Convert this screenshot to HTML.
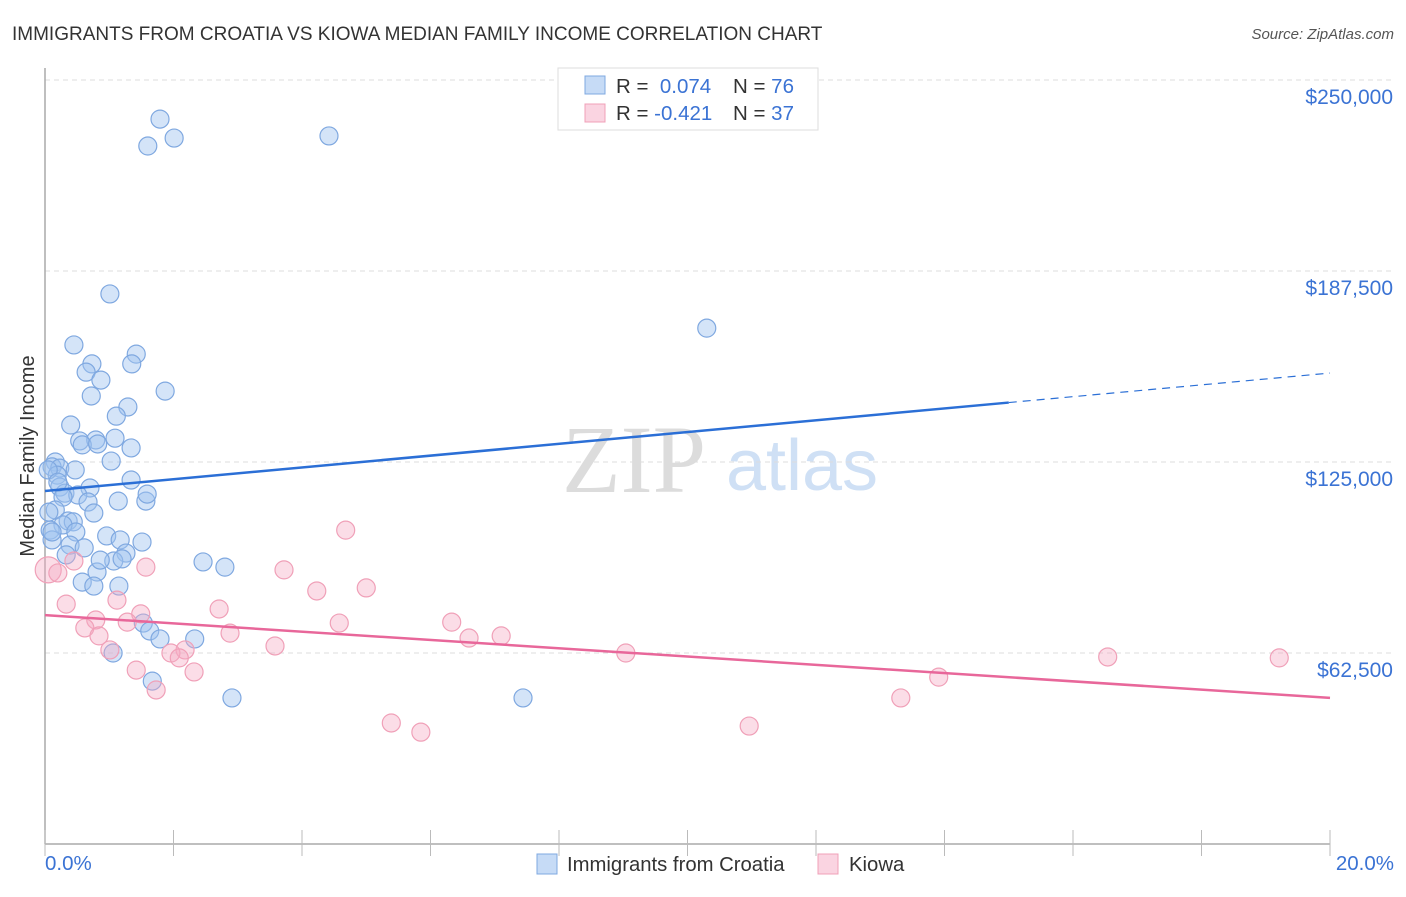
<!DOCTYPE html>
<html><head><meta charset="utf-8"><style>
body{margin:0;background:#fff;font-family:"Liberation Sans",sans-serif}
</style></head><body>
<svg id="c" width="1406" height="892" xmlns="http://www.w3.org/2000/svg" style="font-family:'Liberation Sans',sans-serif">
<text x="12" y="40" font-size="19" fill="#333">IMMIGRANTS FROM CROATIA VS KIOWA MEDIAN FAMILY INCOME CORRELATION CHART</text>
<text x="1394" y="39" font-size="15" fill="#555" font-style="italic" text-anchor="end">Source: ZipAtlas.com</text>
<g>
<text x="634" y="492" font-size="96" fill="#dcdcdc" font-family="Liberation Serif,serif" text-anchor="middle">ZIP</text>
<text x="802" y="490" font-size="72" fill="#cfe0f5" text-anchor="middle">atlas</text>
</g>
<g id="grid"></g>
<g id="axes"></g>
<g id="pts"></g>
<g id="trend"></g>
<text transform="translate(34,456) rotate(-90)" font-size="20" fill="#333" text-anchor="middle">Median Family Income</text>
<text x="45" y="870" font-size="20.5" fill="#3b73d4">0.0%</text>
<text x="1394" y="870" font-size="20.5" fill="#3b73d4" text-anchor="end">20.0%</text>
<g>
<rect x="558" y="68" width="260" height="62" fill="#fff" stroke="#ddd"/>
<rect x="585" y="76" width="20" height="18" fill="rgba(160,195,240,0.6)" stroke="#7fa8e0"/>
<rect x="585" y="104" width="20" height="18" fill="rgba(245,170,195,0.5)" stroke="#f0a0b8"/>
<text x="616" y="93" font-size="20.5" fill="#333">R = <tspan fill="#3b73d4">&#160;0.074</tspan><tspan x="733">N = </tspan><tspan fill="#3b73d4">76</tspan></text>
<text x="616" y="120" font-size="20.5" fill="#333">R = <tspan fill="#3b73d4">-0.421</tspan><tspan x="733">N = </tspan><tspan fill="#3b73d4">37</tspan></text>
</g>
<g>
<rect x="537" y="854" width="20" height="20" fill="rgba(160,195,240,0.6)" stroke="#7fa8e0"/>
<text x="567" y="871" font-size="20.3" fill="#333">Immigrants from Croatia</text>
<rect x="818" y="854" width="20" height="20" fill="rgba(245,170,195,0.5)" stroke="#f0a0b8"/>
<text x="849" y="871" font-size="20.3" fill="#333">Kiowa</text>
</g>
</svg>
<script>
const yTicks=[62500,125000,187500,250000];
const yTickLabels=["$62,500","$125,000","$187,500","$250,000"];
const xTicks=[0,2,4,6,8,10,12,14,16,18,20];
const blueX=[1.79,1.60,2.01,4.42,1.01,10.30,0.45,1.42,0.73,1.35,0.64,0.87,1.87,0.72,1.29,1.11,0.40,0.54,0.79,1.09,0.58,0.82,1.34,1.03,0.16,0.11,0.23,0.19,1.34,0.70,0.23,0.31,0.51,0.28,0.67,1.14,1.57,1.59,0.16,0.76,0.36,0.44,0.28,0.08,0.48,0.11,0.39,0.61,0.96,1.17,1.51,1.26,1.07,1.20,2.46,2.80,0.81,0.58,1.15,0.76,1.53,1.63,1.79,2.33,1.06,1.67,2.91,7.44,0.11,0.06,0.05,0.20,0.33,0.86,0.47];
const blueY=[237.2,228.4,231.0,231.7,180.0,168.8,163.3,160.3,157.1,157.1,154.4,151.8,148.2,146.6,143.0,140.0,137.1,131.9,132.2,132.8,130.6,130.9,129.6,125.3,125.0,123.4,123.0,120.7,119.1,116.5,116.8,114.8,114.2,113.5,111.9,112.2,112.2,114.5,109.3,108.3,105.7,105.4,104.4,102.7,102.1,99.5,97.8,96.9,100.8,99.5,98.8,95.2,92.6,93.3,92.3,90.6,89.0,85.7,84.4,84.4,72.3,69.7,67.1,67.1,62.5,53.3,47.8,47.8,102.1,108.6,122.4,118.4,94.6,92.9,122.4];
const pinkX=[0.05,0.20,0.45,4.68,1.57,3.72,4.23,5.00,0.33,1.12,2.71,1.49,0.79,1.28,6.33,4.58,0.62,0.84,2.88,6.60,7.10,3.58,1.01,2.18,1.96,2.09,9.04,16.54,19.21,1.42,2.32,13.91,1.73,13.32,5.39,10.96,5.85];
const pinkY=[89.7,88.7,92.6,102.7,90.6,89.7,82.8,83.8,78.5,79.8,76.9,75.3,73.3,72.6,72.6,72.3,70.7,68.1,69.0,67.4,68.1,64.8,63.5,63.5,62.5,60.9,62.5,61.2,60.9,56.9,56.3,54.6,50.4,47.8,39.6,38.6,36.6];
const blueTrend=[115.5,154.1], blueSolidEnd=15.0;
const pinkTrend=[74.9,47.8];
const NS="http://www.w3.org/2000/svg";
const X=v=>45+v*1285/20, Y=k=>844-k*1000*191/62500;
function mk(t,a,p){const e=document.createElementNS(NS,t);for(const k in a)e.setAttribute(k,a[k]);document.getElementById(p).appendChild(e);return e;}
yTicks.forEach((t,i)=>{
 const l=mk('line',{x1:45,x2:1394,y1:Y(t/1000),y2:Y(t/1000),stroke:'#ddd','stroke-dasharray':'5,4'},'grid');
 
 
 const tx=mk('text',{x:1393,y:Y(t/1000)+24,'font-size':21,fill:'#3b73d4','text-anchor':'end'},'grid');
 tx.textContent=yTickLabels[i];
 
 
});
const ya=mk('line',{x1:45,x2:45,y1:68,y2:844,stroke:'#aaa','stroke-width':1.5},'axes');


const xa=mk('line',{x1:45,x2:1330,y1:844,y2:844,stroke:'#aaa','stroke-width':1.5},'axes');


xTicks.forEach(t=>{const l=mk('line',{x1:X(t),x2:X(t),y1:830,y2:856,stroke:'#bbb'},'axes');
 
 });
blueX.forEach((v,i)=>{const c=mk('circle',{cx:X(v),cy:Y(blueY[i]),r:9,fill:'rgba(160,195,240,0.45)',stroke:'#7fa8e0','stroke-width':1.2},'pts');
 
 });
pinkX.forEach((v,i)=>{const c=mk('circle',{cx:X(v),cy:Y(pinkY[i]),r:i==0?13:9,fill:'rgba(245,170,195,0.4)',stroke:'#f0a0b8','stroke-width':1.2},'pts');
 
 });
const bAt=x=>blueTrend[0]+(blueTrend[1]-blueTrend[0])*x/20;
const b1=mk('line',{x1:X(0),y1:Y(bAt(0)),x2:X(blueSolidEnd),y2:Y(bAt(blueSolidEnd)),stroke:'#2b6fd6','stroke-width':2.5},'trend');


const b2=mk('line',{x1:X(blueSolidEnd),y1:Y(bAt(blueSolidEnd)),x2:X(20),y2:Y(bAt(20)),stroke:'#2b6fd6','stroke-width':1.2,'stroke-dasharray':'8,6'},'trend');


const p1=mk('line',{x1:X(0),y1:Y(pinkTrend[0]),x2:X(20),y2:Y(pinkTrend[1]),stroke:'#e8679a','stroke-width':2.5},'trend');


</script>
</body></html>
